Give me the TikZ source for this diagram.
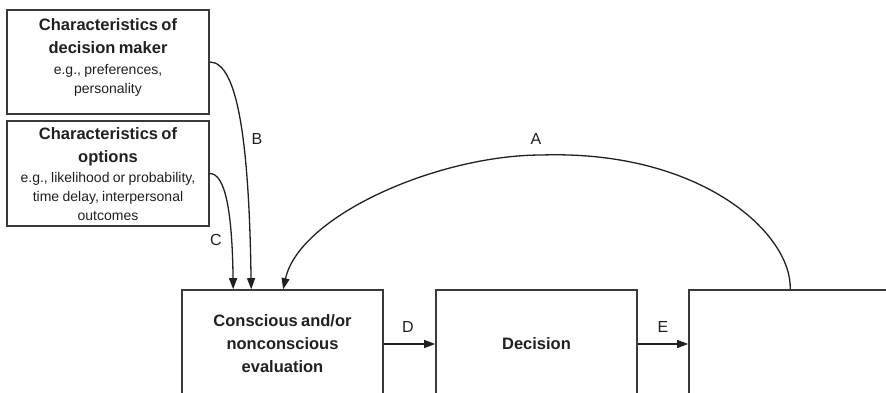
\documentclass[tikz,border=0pt]{standalone}
\usepackage{fontspec}
\setmainfont{Liberation Sans}
\usetikzlibrary{arrows.meta,calc}
\definecolor{txt}{HTML}{231F20}
\definecolor{bord}{HTML}{3A3A3A}
\newcommand\ttlfont{\fontsize{16.5}{23}\selectfont\bfseries}
\newcommand\smfont{\fontsize{14}{19}\selectfont\mdseries}
\begin{document}
\begin{tikzpicture}[x=1pt,y=-1pt,
  box/.style={draw=bord,line width=1.6pt,inner sep=0pt,fill=white,text=txt},
  lbl/.style={text=txt,font=\fontsize{16}{19}\selectfont,inner sep=0pt},
  txtblk/.style={text=txt,align=center,text width=200pt,inner sep=0pt,anchor=north},
  conn/.style={draw=txt,line width=1.3pt,-{Triangle[length=11pt,width=8pt]}}]
\useasboundingbox (0,0) rectangle (886,393);
\clip (0,0) rectangle (886,393);
% boxes
\node[box,minimum width=202pt,minimum height=104pt] (dm) at (108,62) {};
\node[box,minimum width=202pt,minimum height=105pt] (op) at (108,173.5) {};
\node[box,minimum width=201pt,minimum height=108pt] (ev) at (282.5,344) {};
\node[box,minimum width=201pt,minimum height=108pt] (dc) at (536.5,344) {\ttlfont Decision};
\node[box,minimum width=220pt,minimum height=108pt] (oc) at (799,344) {};
% texts
\node[txtblk] (dmt) at (108,18) {\ttlfont Characteristics of\\decision maker\par\vspace{2pt}\smfont e.g., preferences,\\personality\par};
\node[txtblk] (opt) at (108,127.5) {\ttlfont Characteristics of\\options\par\vspace{1pt}\smfont e.g., likelihood or probability,\\time delay, interpersonal\\outcomes\par};
\node[txtblk] (evt) at (282.5,314) {\ttlfont Conscious and/or\\nonconscious\\evaluation\par};
% coordinates
\coordinate (Bend) at ($(ev.north west)+(70,0)$);
\coordinate (Cend) at ($(ev.north west)+(52,0)$);
\coordinate (Aend) at ($(ev.north west)+(102,0)$);
\coordinate (Astart) at ($(oc.north west)+(102,0)$);
\coordinate (Atop) at (542,155);
% connectors
\draw[conn] (dm.east) .. controls +(29,0) and +(-2,-140) .. (Bend);
\draw[conn] (op.east) .. controls +(15,0) and +(-1,-80) .. (Cend);
\draw[conn] (Astart) .. controls +(2,-55) and +(160,-5) .. (Atop)
   .. controls +(-105,0) and +(16,-73) .. (Aend);
\draw[conn] (ev.east) -- (dc.west);
\draw[conn] (dc.east) -- (oc.west);
% labels
\node[lbl] (la) at (536,139) {A};
\node[lbl] (lb) at (257,139) {B};
\node[lbl] (lc) at (216,240) {C};
\node[lbl] (ld) at (408,327) {D};
\node[lbl] (le) at (663,327) {E};
\end{tikzpicture}
\end{document}
